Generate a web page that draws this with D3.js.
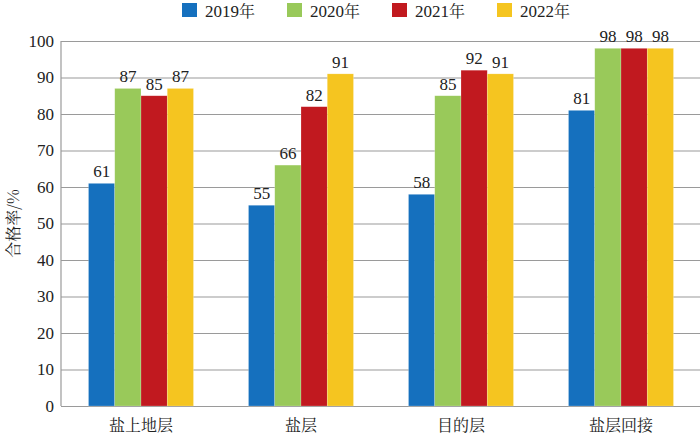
<!DOCTYPE html>
<html>
<head>
<meta charset="utf-8">
<script src="https://cdn.jsdelivr.net/npm/d3@7.9.0/dist/d3.min.js"></script>
<style>
  body { margin: 0; background: #fff; }
</style>
</head>
<body>
<div id="chart"></div>
<script>
const categories = ['盐上地层', '盐层', '目的层', '盐层回接'];
const years = ['2019', '2020', '2021', '2022'];
const colors = ['#1570be', '#99c95a', '#c1191f', '#f5c520'];
const values = [
  [61, 55, 58, 81],   // 2019
  [87, 66, 85, 98],   // 2020
  [85, 82, 92, 98],   // 2021
  [87, 91, 91, 98],   // 2022
];
const yTicks = [0, 10, 20, 30, 40, 50, 60, 70, 80, 90, 100];

const width = 700;
const height = 436;
const margin = { top: 41, right: -1, bottom: 30, left: 61 };
const latin = 'Liberation Serif';
const cjk = 'Noto Serif CJK SC';

const svg = d3.select('#chart')
  .append('svg')
  .attr('width', width)
  .attr('height', height);

const x0 = d3.scaleBand()
  .domain(categories)
  .range([margin.left, width - margin.right]);

const groupWidth = 105;
const x1 = d3.scaleBand()
  .domain(years)
  .range([0, groupWidth]);

const y = d3.scaleLinear()
  .domain([0, 100])
  .range([height - margin.bottom, margin.top]);

// gridlines
svg.append('g')
  .attr('transform', `translate(${margin.left},0)`)
  .call(d3.axisLeft(y).tickValues(yTicks).tickFormat('').tickSize(-(width - margin.left)))
  .call(g => g.select('.domain').remove())
  .call(g => g.selectAll('line').attr('stroke', '#9a9a9a').attr('stroke-width', 1.2));

// left axis line
svg.append('line')
  .attr('x1', margin.left).attr('x2', margin.left)
  .attr('y1', y(100)).attr('y2', y(0))
  .attr('stroke', '#9a9a9a').attr('stroke-width', 1.2);

// y tick labels
svg.append('g')
  .attr('transform', `translate(${margin.left},0)`)
  .call(d3.axisLeft(y).tickValues(yTicks).tickSize(0).tickPadding(7))
  .call(g => g.select('.domain').remove())
  .call(g => g.selectAll('text')
    .attr('font-family', latin)
    .style('font-family', latin)
    .attr('font-size', 17)
    .attr('fill', '#222'));

// y title
svg.append('text')
  .attr('transform', `translate(19,${(y(0) + y(100)) / 2}) rotate(-90)`)
  .attr('text-anchor', 'middle')
  .attr('font-family', cjk)
  .attr('font-size', 16)
  .attr('fill', '#222')
  .text('合格率/%');

// bars
const groups = svg.append('g')
  .selectAll('g')
  .data(categories)
  .join('g')
  .attr('transform', d => `translate(${x0(d) + (x0.bandwidth() - groupWidth) / 2},0)`);

groups.selectAll('rect')
  .data((d, i) => years.map((yr, j) => ({ yr, j, v: values[j][i] })))
  .join('rect')
  .attr('x', d => x1(d.yr))
  .attr('y', d => y(d.v))
  .attr('width', x1.bandwidth())
  .attr('height', d => y(0) - y(d.v))
  .attr('fill', d => colors[d.j])
  .attr('stroke', '#ffffff')
  .attr('stroke-opacity', 0.35)
  .attr('stroke-width', 0.6);

groups.selectAll('text.val')
  .data((d, i) => years.map((yr, j) => ({ yr, j, v: values[j][i] })))
  .join('text')
  .attr('class', 'val')
  .attr('x', d => x1(d.yr) + x1.bandwidth() / 2)
  .attr('y', d => y(d.v) - 6)
  .attr('text-anchor', 'middle')
  .attr('font-family', latin)
  .style('font-family', latin)
  .attr('font-size', 17)
  .attr('fill', '#222')
  .text(d => d.v);

// x labels
svg.append('g')
  .selectAll('text')
  .data(categories)
  .join('text')
  .attr('x', d => x0(d) + x0.bandwidth() / 2)
  .attr('y', 431)
  .attr('text-anchor', 'middle')
  .attr('font-family', cjk)
  .attr('font-size', 16)
  .attr('fill', '#222')
  .text(d => d);

// legend
const legendX = d3.scaleBand()
  .domain(years)
  .range([182, 602]);

const legend = svg.append('g')
  .selectAll('g')
  .data(years)
  .join('g')
  .attr('transform', d => `translate(${legendX(d)},3)`);

legend.append('rect')
  .attr('width', 15)
  .attr('height', 14)
  .attr('fill', (d, i) => colors[i]);

const legendText = legend.append('text')
  .attr('x', 23)
  .attr('y', 14)
  .attr('font-size', 17)
  .attr('fill', '#222');
legendText.append('tspan').attr('font-family', latin).style('font-family', latin).text(d => d);
legendText.append('tspan').attr('font-family', cjk).attr('font-size', 16).text('年');
</script>
</body>
</html>
